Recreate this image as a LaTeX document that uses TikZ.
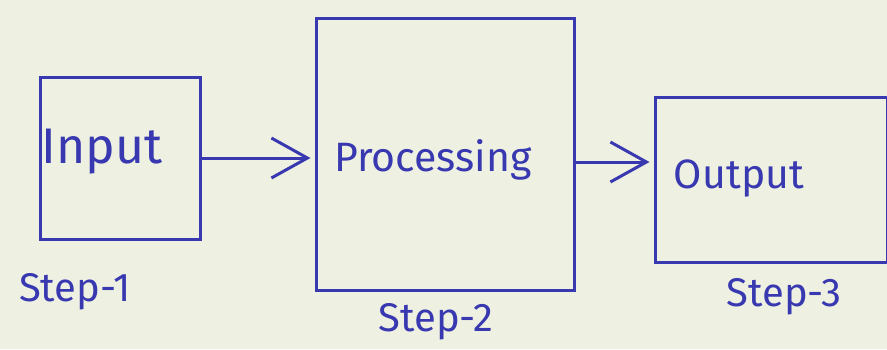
\documentclass[tikz,border=0pt]{standalone}
\usepackage{fontspec}
\setmainfont{Fira Sans}
\usetikzlibrary{arrows.meta}
\definecolor{paper}{HTML}{EEF0E1}
\definecolor{ink}{HTML}{3838B0}
\tikzset{
  blockbox/.style={draw=ink, line width=3pt, rectangle, inner sep=0pt},
  blocktext/.style={text=ink, font=\fontsize{41}{45}\selectfont, inner sep=0pt},
  steptext/.style={text=ink, font=\fontsize{40}{44}\selectfont, inner sep=0pt},
  flow/.style={draw=ink, line width=3pt,
    -{Straight Barb[length=36pt, width=40pt, line width=3pt]}}
}
\begin{document}
\begin{tikzpicture}[x=1pt, y=-1pt]
  % paper
  \fill[paper] (0,0) rectangle (887,349);
  \useasboundingbox (0,0) rectangle (887,349);

  % blocks
  \node[blockbox, minimum width=160pt, minimum height=162pt] (in)   at (120,158)   {};
  \node[blockbox, minimum width=258pt, minimum height=272pt] (proc) at (445,154)   {};
  \node[blockbox, minimum width=232pt, minimum height=165pt] (out)  at (771,180)   {};

  % block captions
  \node[blocktext, font=\fontsize{50}{54}\selectfont] (intxt) at (102,152) {Input};
  \node[blocktext] (proctxt) at (433,160) {Processing};
  \node[blocktext] (outtxt)  at (739,178) {Output};

  % step labels
  \node[steptext] (s1) at (75,292)  {Step-1};
  \node[steptext] (s2) at (436,322) {Step-2};
  \node[steptext] (s3) at (784,297) {Step-3};

  % flow arrows
  \coordinate (a1) at (0,158);
  \coordinate (a2) at (0,162);
  \draw[flow] (in.east |- a1) -- ([xshift=-4pt]proc.west |- a1);
  \draw[flow] (proc.east |- a2) -- ([xshift=-4pt]out.west |- a2);
\end{tikzpicture}
\end{document}
